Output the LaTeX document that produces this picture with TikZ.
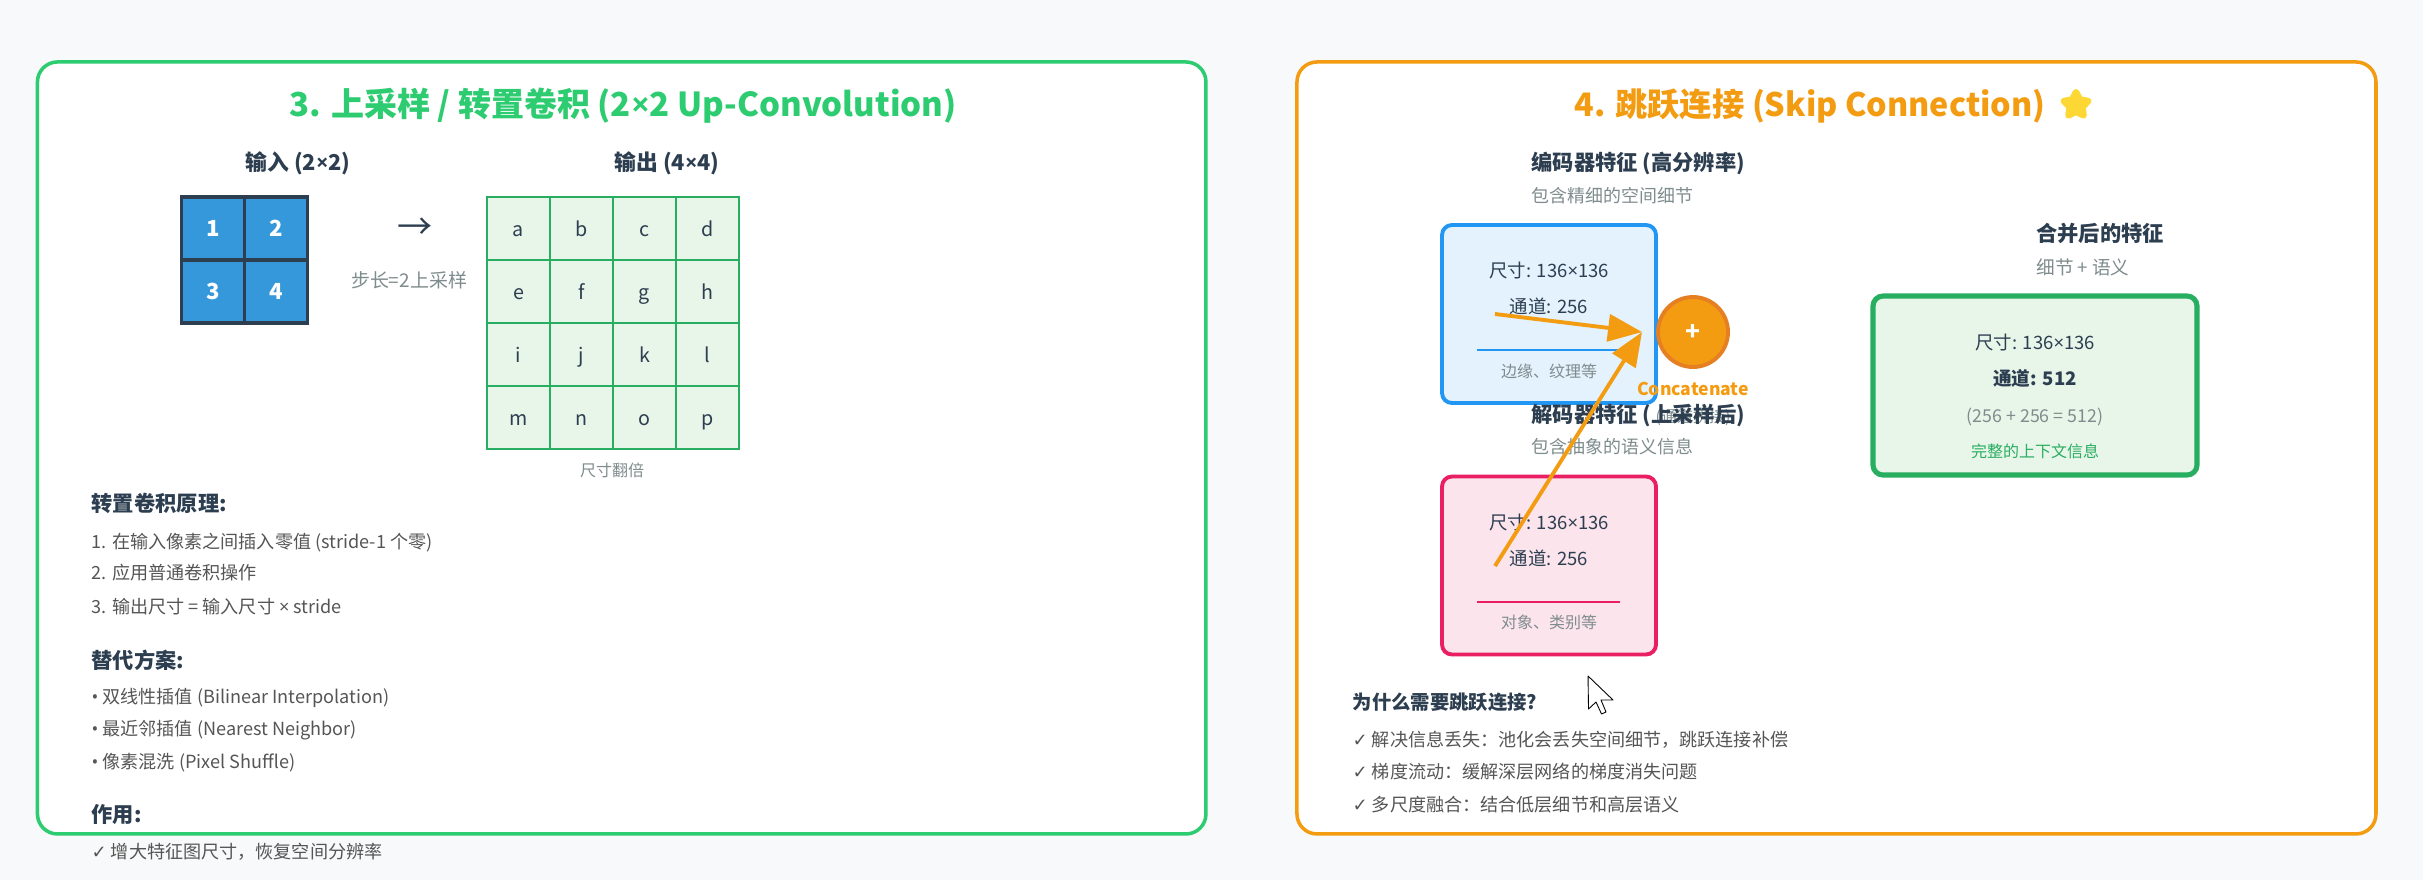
\documentclass[tikz,border=0pt]{standalone}
\usepackage{fontspec}
\setmainfont{Noto Sans CJK SC}
\newfontfamily\symfont{DejaVu Sans}
\newfontfamily\latfont{Open Sans}
\newcommand\tms{{\latfont ×}}
\usetikzlibrary{arrows.meta,shapes.geometric}
\definecolor{pagebg}{HTML}{F8F9FA}
\definecolor{inkdark}{HTML}{2C3E50}
\definecolor{inkgray}{HTML}{7F8C8D}
\definecolor{inkbody}{HTML}{555555}
\definecolor{upgreen}{HTML}{2ECC71}
\definecolor{skiporange}{HTML}{F39C12}
\definecolor{sumorange}{HTML}{E67E22}
\definecolor{staryellow}{HTML}{FDD835}
\definecolor{cellblue}{HTML}{3498DB}
\definecolor{okgreen}{HTML}{27AE60}
\definecolor{okfill}{HTML}{E8F5E9}
\definecolor{encblue}{HTML}{2196F3}
\definecolor{encfill}{HTML}{E3F2FD}
\definecolor{decpink}{HTML}{E91E63}
\definecolor{decfill}{HTML}{FCE4EC}
\tikzset{
  fsize/.style={inner sep=0pt,text height=0.8*#1pt,text depth=0.1*#1pt,font=\fontsize{#1}{#1}\selectfont},
  bsize/.style={inner sep=0pt,text height=0.8*#1pt,text depth=0.1*#1pt,font=\fontsize{#1}{#1}\selectfont\bfseries},
  panel/.style={draw=#1,line width=1pt,fill=white,rounded corners=0.2cm,anchor=north west},
  headtxt/.style={bsize=6.05,text=inkdark},
  subtxt/.style={fsize=5.1,text=inkgray},
  smalltxt/.style={fsize=4.55,text=inkgray},
  bodytxt/.style={fsize=5.15,anchor=west,text=inkbody},
  boxtxt/.style={fsize=5.25,text=inkdark},
  incell/.style={bsize=6.3,draw=inkdark,line width=1pt,fill=cellblue,minimum size=0.63cm,text=white},
  outcell/.style={fsize=5.6,text height=4.6pt,text depth=0pt,draw=okgreen,line width=0.55pt,fill=okfill,minimum size=0.63cm,text=inkdark},
  feature/.style={draw=#1,line width=1.1pt,rounded corners=0.1cm,minimum width=2.14cm,minimum height=1.78cm},
  skiparrow/.style={draw=skiporange,line width=1.1pt,-{Triangle[length=0.34cm,width=0.27cm]}},
}
\begin{document}
\begin{tikzpicture}[x=1cm,y=-1cm]
  \useasboundingbox (0,0) rectangle (24.23,8.80);
  \fill[pagebg] (0,0) rectangle (24.23,8.80);

  \node[panel=upgreen,minimum width=11.685cm,minimum height=7.72cm] (panelup) at (0.357,0.602) {};
  \node[panel=skiporange,minimum width=10.79cm,minimum height=7.72cm] (panelskip) at (12.952,0.602) {};

  % left panel
  \node[bsize=9.4,text=upgreen] (titleup) at (6.23,1.05) {3. 上采样 / 转置卷积 (2\tms 2 Up-Convolution)};
  \node[bsize=6.2,text=inkdark] (inhead) at (2.98,1.63) {输入 (2\tms 2)};
  \node[bsize=6.2,text=inkdark] (outhead) at (6.67,1.63) {输出 (4\tms 4)};

  \foreach \n/\x/\y in {1/2.13/2.285,2/2.76/2.285,3/2.13/2.915,4/2.76/2.915}
    \node[incell] (in\n) at (\x,\y) {\n};
  \foreach \c [count=\k from 0] in {a,b,c,d,e,f,g,h,i,j,k,l,m,n,o,p}
    \node[outcell] (out\c) at ({5.185+0.63*mod(\k,4)},{2.285+0.63*int(\k/4)}) {\c};

  \node[fsize=10,text=inkdark] (stepsign) at (4.15,2.27) {→};
  \node[fsize=5.4,text=inkgray] (steptxt) at (4.09,2.81) {步长=2上采样};
  \node[smalltxt] (doubletxt) at (6.12,4.71) {尺寸翻倍};

  \node[headtxt,anchor=west] (whyhead) at (0.91,5.04) {转置卷积原理:};
  \node[bodytxt] (why1) at (0.91,5.42) {1. 在输入像素之间插入零值 (stride-1 个零)};
  \node[bodytxt] (why2) at (0.91,5.73) {2. 应用普通卷积操作};
  \node[bodytxt] (why3) at (0.91,6.07) {3. 输出尺寸 = 输入尺寸 \tms{} stride};
  \node[headtxt,anchor=west] (althead) at (0.91,6.61) {替代方案:};
  \node[bodytxt] (alt1) at (0.91,6.97) {{\latfont •} 双线性插值 (Bilinear Interpolation)};
  \node[bodytxt] (alt2) at (0.91,7.29) {{\latfont •} 最近邻插值 (Nearest Neighbor)};
  \node[bodytxt] (alt3) at (0.91,7.62) {{\latfont •} 像素混洗 (Pixel Shuffle)};
  \node[headtxt,anchor=west] (usehead) at (0.91,8.15) {作用:};
  \node[bodytxt] (use1) at (0.91,8.52) {{\symfont ✓} 增大特征图尺寸，恢复空间分辨率};

  % right panel
  \node[bsize=9.2,text=skiporange] (titleskip) at (18.10,1.05) {4. 跳跃连接 (Skip Connection)};
  \node[star,star points=5,star point ratio=1.9,fill=staryellow,draw=staryellow,line width=1.8pt,line join=round,minimum size=0.26cm,inner sep=0pt] (titlestar) at (20.76,1.05) {};

  \node[feature=encblue,fill=encfill] (encbox) at (15.49,3.14) {};
  \node[feature=decpink,fill=decfill] (decbox) at (15.49,5.655) {};
  \node[feature=okgreen,fill=okfill,line width=1.45pt,minimum width=3.24cm,minimum height=1.79cm] (mergebox) at (20.35,3.855) {};

  \node[headtxt,anchor=west] (enchead) at (15.31,1.63) {编码器特征 (高分辨率)};
  \node[subtxt,anchor=west] (encsub) at (15.31,1.96) {包含精细的空间细节};
  \node[boxtxt] (encsize) at (15.49,2.71) {尺寸: 136\tms 136};
  \node[boxtxt] (encchan) at (15.49,3.07) {通道: 256};
  \draw[encblue,line width=0.55pt] (14.77,3.50) -- (16.20,3.50);
  \node[smalltxt] (encnote) at (15.49,3.72) {边缘、纹理等};

  \node[smalltxt] (catnote) at (16.93,4.17) {(通道拼接)};
  \node[headtxt,anchor=west] (dechead) at (15.31,4.15) {解码器特征 (上采样后)};
  \node[subtxt,anchor=west] (decsub) at (15.31,4.47) {包含抽象的语义信息};
  \node[boxtxt] (decsize) at (15.49,5.23) {尺寸: 136\tms 136};
  \node[boxtxt] (decchan) at (15.49,5.59) {通道: 256};
  \draw[decpink,line width=0.55pt] (14.77,6.02) -- (16.20,6.02);
  \node[smalltxt] (decnote) at (15.49,6.23) {对象、类别等};

  \node[bsize=7,circle,draw=sumorange,fill=skiporange,line width=1.1pt,minimum size=0.70cm,text=white] (catsum) at (16.93,3.32) {+};
  \node[bsize=5,text=skiporange] (catlabel) at (16.93,3.89) {Concatenate};

  \coordinate (encout) at (14.95,3.14);
  \coordinate (decout) at (14.95,5.66);
  \coordinate (cattip) at (16.42,3.32);
  \draw[skiparrow] (encout) -- (cattip);
  \draw[skiparrow] (decout) -- (cattip);

  \node[headtxt] (mergehead) at (21.00,2.34) {合并后的特征};
  \node[fsize=5.3,text=inkgray] (mergesub) at (20.83,2.68) {细节 + 语义};
  \node[boxtxt] (mergesize) at (20.35,3.43) {尺寸: 136\tms 136};
  \node[bsize=5.3,text=inkdark] (mergechan) at (20.35,3.79) {通道: 512};
  \node[fsize=5.05,text=inkgray] (mergesum) at (20.35,4.16) {(256 + 256 = 512)};
  \node[smalltxt,text=okgreen] (mergenote) at (20.35,4.52) {完整的上下文信息};

  \draw[black,fill=white,line width=0.25pt,line join=round] (15.88,6.76) -- (16.13,7.00) -- (16.01,7.00) -- (16.06,7.12) -- (16.015,7.14) -- (15.96,7.02) -- (15.885,7.09) -- cycle;

  \node[bsize=5.5,anchor=west,text=inkdark] (benefithead) at (13.52,7.03) {为什么需要跳跃连接?};
  \node[bodytxt] (benefit1) at (13.52,7.40) {{\symfont ✓} 解决信息丢失：池化会丢失空间细节，跳跃连接补偿};
  \node[bodytxt] (benefit2) at (13.52,7.72) {{\symfont ✓} 梯度流动：缓解深层网络的梯度消失问题};
  \node[bodytxt] (benefit3) at (13.52,8.05) {{\symfont ✓} 多尺度融合：结合低层细节和高层语义};
\end{tikzpicture}
\end{document}
